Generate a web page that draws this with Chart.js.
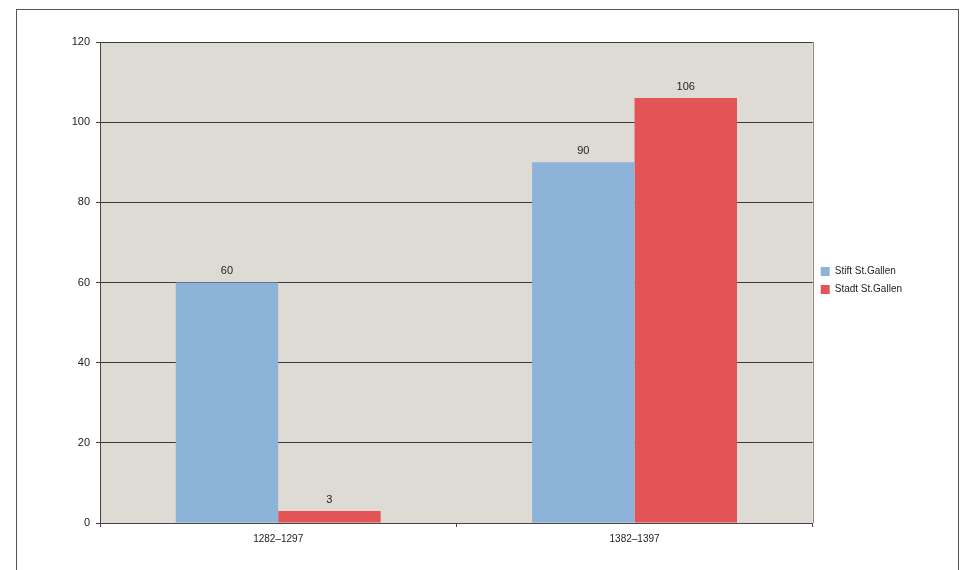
<!DOCTYPE html>
<html>
<head>
<meta charset="utf-8">
<script src="https://cdn.jsdelivr.net/npm/chart.js@4"></script>
<style>
  html, body { margin: 0; padding: 0; background: #fff; }
  #wrap { position: relative; width: 965px; height: 570px; }
  #frame { position: absolute; left: 16px; top: 9px; width: 943px; height: 570px; border: 1px solid #555; border-bottom: none; box-sizing: border-box; }
  canvas { position: absolute; left: 0; top: 0; }
</style>
</head>
<body>
<div id="wrap">
  <div id="frame"></div>
  <canvas id="chart" width="965" height="570"></canvas>
</div>
<script>
// Periods and counts
const periods = ['1282–1297', '1382–1397'];
const stiftValues = [60, 90];
const stadtValues = [3, 106];
const seriesNames = ['Stift St.Gallen', 'Stadt St.Gallen'];

// Plot background (grey paper) and right border
const plotBg = {
    id: 'plotBg',
    afterLayout(chart) {
        // legend sits a bit above the middle in the original
        if (chart.legend) {
            chart.legend.top -= 16;
            chart.legend.bottom -= 16;
        }
    },
    beforeDraw(chart) {
        const a = chart.chartArea;
        const ctx = chart.ctx;
        ctx.save();
        ctx.fillStyle = '#dddbd3';
        ctx.fillRect(a.left, a.top, a.right - a.left, a.bottom - a.top);
        ctx.strokeStyle = '#8a8a86';
        ctx.lineWidth = 1;
        ctx.beginPath();
        ctx.moveTo(Math.round(a.right) + 0.5, a.top);
        ctx.lineTo(Math.round(a.right) + 0.5, a.bottom);
        ctx.stroke();
        ctx.restore();
    }
};

// Value labels above each bar
const barLabels = {
    id: 'barLabels',
    afterDatasetsDraw(chart) {
        const ctx = chart.ctx;
        ctx.save();
        ctx.font = '11px "Liberation Sans", Arial, sans-serif';
        ctx.fillStyle = '#222';
        ctx.textAlign = 'center';
        ctx.textBaseline = 'bottom';
        chart.data.datasets.forEach((ds, i) => {
            chart.getDatasetMeta(i).data.forEach((bar, j) => {
                ctx.fillText(ds.data[j], bar.x, bar.y - 6);
            });
        });
        ctx.restore();
    }
};

const ctx = document.getElementById('chart').getContext('2d');
const chart = new Chart(ctx, {
    type: 'bar',
    data: {
        labels: periods,
        datasets: [{
            label: seriesNames[0],
            data: stiftValues,
            backgroundColor: '#8db3d8',
            barPercentage: 1,
            categoryPercentage: 0.575
        }, {
            label: seriesNames[1],
            data: stadtValues,
            backgroundColor: '#e35457',
            barPercentage: 1,
            categoryPercentage: 0.575
        }]
    },
    options: {
        responsive: false,
        animation: false,
        layout: { padding: { top: 42, right: 53, left: 0, bottom: 19 } },
        scales: {
            x: {
                grid: { display: true, drawOnChartArea: false, offset: true, tickLength: 4, color: '#444' },
                border: { color: '#444' },
                ticks: { color: '#222', font: { family: '"Liberation Sans", Arial, sans-serif', size: 10 }, padding: 6 }
            },
            y: {
                min: 0,
                max: 120,
                ticks: { stepSize: 20, color: '#222', padding: 6, font: { family: '"Liberation Sans", Arial, sans-serif', size: 11 } },
                grid: { color: '#3a3a3a', tickLength: 4 },
                border: { color: '#444' },
                afterFit(scale) { scale.width = 100; }
            }
        },
        plugins: {
            legend: {
                position: 'right',
                align: 'center',
                labels: {
                    boxWidth: 9,
                    boxHeight: 9,
                    padding: 8,
                    color: '#222',
                    font: { family: '"Liberation Sans", Arial, sans-serif', size: 10 }
                }
            },
            tooltip: { enabled: false }
        }
    },
    plugins: [plotBg, barLabels]
});
</script>
</body>
</html>
